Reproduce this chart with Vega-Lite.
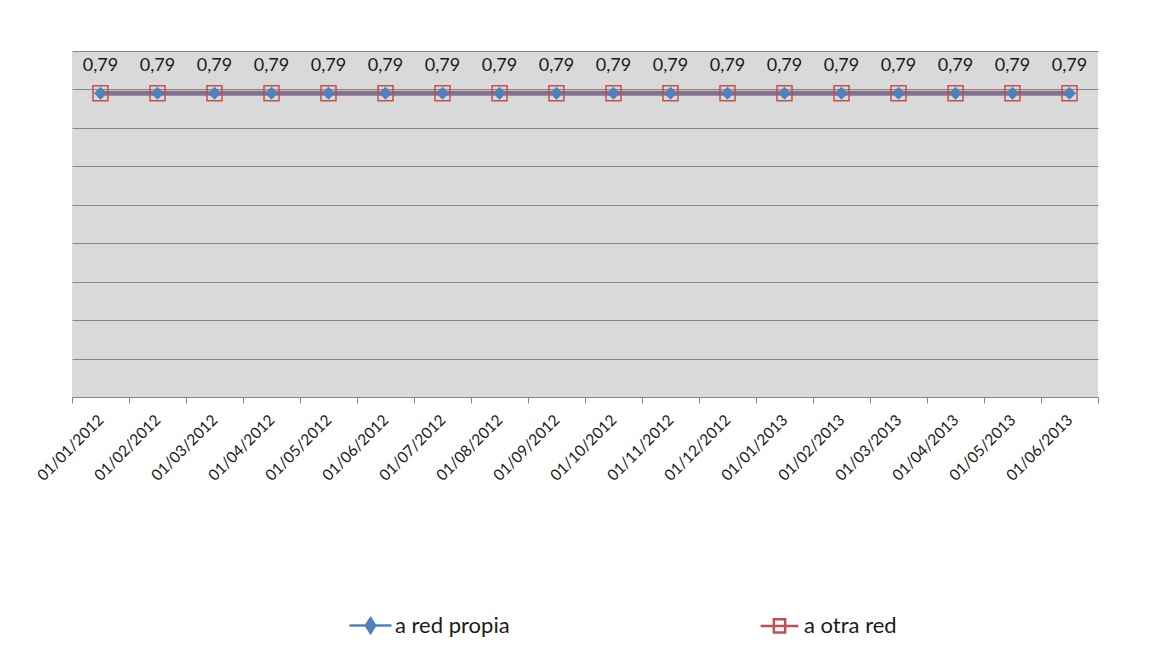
{
  "$schema": "https://vega.github.io/schema/vega-lite/v6.json",
  "width": 1026,
  "height": 346,
  "autosize": {"type": "none"},
  "padding": {"left": 72, "top": 51, "right": 70, "bottom": 265},
  "background": "white",
  "config": {
    "locale": {"number": {"decimal": ",", "thousands": ".", "grouping": [3], "currency": ["", " €"]}},
    "font": "Lato",
    "view": {"fill": "#D9D9D9", "stroke": null},
    "legend": {"padding": 0}
  },
  "data": {
    "values": [
      {"fecha": "01/01/2012", "serie": "a red propia", "valor": 0.79},
      {"fecha": "01/02/2012", "serie": "a red propia", "valor": 0.79},
      {"fecha": "01/03/2012", "serie": "a red propia", "valor": 0.79},
      {"fecha": "01/04/2012", "serie": "a red propia", "valor": 0.79},
      {"fecha": "01/05/2012", "serie": "a red propia", "valor": 0.79},
      {"fecha": "01/06/2012", "serie": "a red propia", "valor": 0.79},
      {"fecha": "01/07/2012", "serie": "a red propia", "valor": 0.79},
      {"fecha": "01/08/2012", "serie": "a red propia", "valor": 0.79},
      {"fecha": "01/09/2012", "serie": "a red propia", "valor": 0.79},
      {"fecha": "01/10/2012", "serie": "a red propia", "valor": 0.79},
      {"fecha": "01/11/2012", "serie": "a red propia", "valor": 0.79},
      {"fecha": "01/12/2012", "serie": "a red propia", "valor": 0.79},
      {"fecha": "01/01/2013", "serie": "a red propia", "valor": 0.79},
      {"fecha": "01/02/2013", "serie": "a red propia", "valor": 0.79},
      {"fecha": "01/03/2013", "serie": "a red propia", "valor": 0.79},
      {"fecha": "01/04/2013", "serie": "a red propia", "valor": 0.79},
      {"fecha": "01/05/2013", "serie": "a red propia", "valor": 0.79},
      {"fecha": "01/06/2013", "serie": "a red propia", "valor": 0.79},
      {"fecha": "01/01/2012", "serie": "a otra red", "valor": 0.79},
      {"fecha": "01/02/2012", "serie": "a otra red", "valor": 0.79},
      {"fecha": "01/03/2012", "serie": "a otra red", "valor": 0.79},
      {"fecha": "01/04/2012", "serie": "a otra red", "valor": 0.79},
      {"fecha": "01/05/2012", "serie": "a otra red", "valor": 0.79},
      {"fecha": "01/06/2012", "serie": "a otra red", "valor": 0.79},
      {"fecha": "01/07/2012", "serie": "a otra red", "valor": 0.79},
      {"fecha": "01/08/2012", "serie": "a otra red", "valor": 0.79},
      {"fecha": "01/09/2012", "serie": "a otra red", "valor": 0.79},
      {"fecha": "01/10/2012", "serie": "a otra red", "valor": 0.79},
      {"fecha": "01/11/2012", "serie": "a otra red", "valor": 0.79},
      {"fecha": "01/12/2012", "serie": "a otra red", "valor": 0.79},
      {"fecha": "01/01/2013", "serie": "a otra red", "valor": 0.79},
      {"fecha": "01/02/2013", "serie": "a otra red", "valor": 0.79},
      {"fecha": "01/03/2013", "serie": "a otra red", "valor": 0.79},
      {"fecha": "01/04/2013", "serie": "a otra red", "valor": 0.79},
      {"fecha": "01/05/2013", "serie": "a otra red", "valor": 0.79},
      {"fecha": "01/06/2013", "serie": "a otra red", "valor": 0.79}
    ]
  },
  "encoding": {
    "x": {
      "field": "fecha",
      "type": "ordinal",
      "sort": null,
      "title": null,
      "scale": {"paddingInner": 0, "paddingOuter": 0},
      "axis": {
        "labelAngle": -45,
        "labelAlign": "right",
        "labelBaseline": "middle",
        "labelFontSize": 15.5,
        "labelColor": "#1a1a1a",
        "labelPadding": 14,
        "domainColor": "#868686",
        "domainWidth": 1,
        "tickColor": "#868686",
        "tickSize": 6,
        "tickBand": "extent",
        "grid": false
      }
    },
    "y": {
      "field": "valor",
      "type": "quantitative",
      "title": null,
      "scale": {"domain": [0, 0.9], "nice": false, "zero": true},
      "axis": {
        "values": [0, 0.1, 0.2, 0.3, 0.4, 0.5, 0.6, 0.7, 0.8, 0.9],
        "labels": false,
        "ticks": false,
        "domain": false,
        "grid": true,
        "gridColor": "#868686",
        "gridWidth": 1
      }
    }
  },
  "layer": [
    {
      "transform": [{"filter": "datum.serie === 'a otra red'"}],
      "mark": {"type": "line", "color": "#C0504D", "strokeWidth": 5, "opacity": 0.9}
    },
    {
      "transform": [{"filter": "datum.serie === 'a red propia'"}],
      "mark": {"type": "line", "color": "#4F81BD", "strokeWidth": 2.5}
    },
    {
      "transform": [{"filter": "datum.serie === 'a red propia'"}],
      "mark": {"type": "point", "shape": "diamond", "filled": true, "size": 170, "color": "#4F81BD", "opacity": 1}
    },
    {
      "transform": [{"filter": "datum.serie === 'a otra red'"}],
      "mark": {"type": "point", "shape": "square", "filled": false, "size": 225, "stroke": "#C0504D", "strokeWidth": 1.5, "opacity": 1}
    },
    {
      "transform": [{"filter": "datum.serie === 'a red propia'"}],
      "mark": {"type": "text", "dy": -27, "fontSize": 18, "color": "#1a1a1a", "baseline": "middle"},
      "encoding": {"text": {"field": "valor", "type": "quantitative", "format": ".2f"}}
    },
    {
      "mark": {"type": "point", "clip": true, "filled": false, "opacity": 1},
      "encoding": {
        "y": {"datum": -1},
        "color": {
          "field": "serie",
          "type": "nominal",
          "scale": {"domain": ["a red propia", "a otra red"], "range": ["#4F81BD", "#C0504D"]},
          "legend": {
            "title": null,
            "orient": "none",
            "direction": "horizontal",
            "legendX": 276,
            "legendY": 552,
            "symbolSize": 1764,
            "symbolStrokeWidth": 2.5,
            "labelFontSize": 22,
            "labelColor": "#1a1a1a",
            "labelOffset": 2,
            "columnPadding": 245,
            "padding": 0
          }
        },
        "fill": {
          "field": "serie",
          "type": "nominal",
          "scale": {"domain": ["a red propia", "a otra red"], "range": ["#4F81BD", "transparent"]}
        },
        "shape": {
          "field": "serie",
          "type": "nominal",
          "scale": {
            "domain": ["a red propia", "a otra red"],
            "range": [
              "M-1,0H1M0,-0.35L0.22,0L0,0.35L-0.22,0Z",
              "M-0.9,0H0.9M-0.27,-0.32H0.27V0.32H-0.27Z"
            ]
          }
        }
      }
    }
  ]
}
